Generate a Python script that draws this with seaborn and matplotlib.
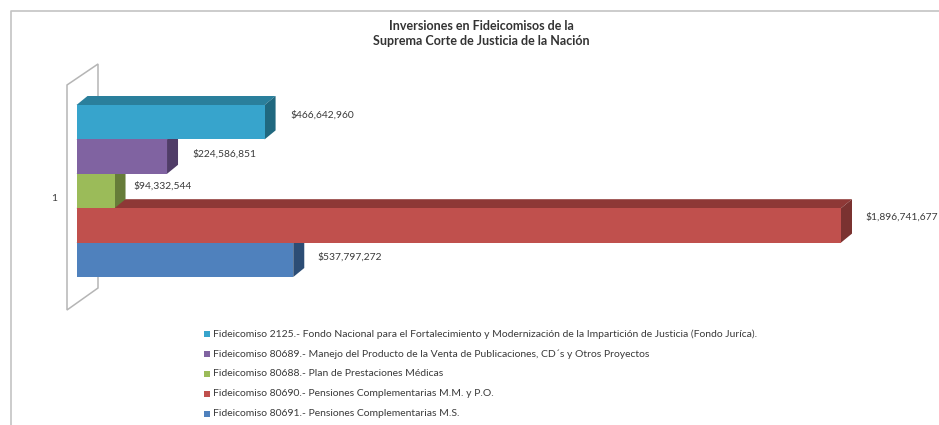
import matplotlib
matplotlib.use('Agg')
import matplotlib.pyplot as plt
from matplotlib.patches import Polygon
import pandas as pd
import seaborn as sns

fideicomisos = ['Fideicomiso 2125.- Fondo Nacional para el Fortalecimiento y Modernización de la Impartición de Justicia (Fondo Juríca).',
                'Fideicomiso 80689.- Manejo del Producto de la Venta de Publicaciones, CD´s y Otros Proyectos',
                'Fideicomiso 80688.- Plan de Prestaciones Médicas',
                'Fideicomiso 80690.- Pensiones Complementarias M.M. y P.O.',
                'Fideicomiso 80691.- Pensiones Complementarias M.S.']
montos = [466642960, 224586851, 94332544, 1896741677, 537797272]
frente = ['#37A4CC', '#8063A1', '#9BBB59', '#C0504D', '#4F81BD']
arriba = ['#2A7F9C', '#604A7B', '#76923C', '#8E3836', '#3A5F8C']
lado = ['#20687F', '#503D68', '#667C39', '#7A3230', '#2C4D75']

W, H = 939, 425
sns.set_theme(style='white')
plt.rcParams['font.family'] = ['Lato', 'DejaVu Sans']

df = pd.DataFrame({'nombre': fideicomisos, 'monto': montos})

fig = plt.figure(figsize=(W / 100, H / 100), dpi=100)

# capa de fondo en pixeles para pared, marco y leyenda
bg = fig.add_axes([0, 0, 1, 1])
bg.set_xlim(0, W)
bg.set_ylim(H, 0)
bg.axis('off')

# marco del grafico
bg.plot([11, 11, W], [H, 10.5, 10.5], color='#c4c4c4', lw=1.2)

# pared 3D
bg.add_patch(Polygon([(67, 85), (98, 64), (98, 288), (67, 310)], closed=True,
                     fill=False, edgecolor='#b5b5b5', lw=1.1))

# barras
ax = fig.add_axes([76.5 / W, 1 - 277 / H, 764.5 / W, 172 / H])
ax.patch.set_alpha(0)
sns.barplot(data=df, x='monto', y='nombre', hue='nombre', palette=frente,
            width=1.0, legend=False, dodge=False, ax=ax, saturation=1, linewidth=0)
ax.set_xlim(0, 1896741677)
ax.set_ylim(4.5, -0.5)
ax.axis('off')

# caras superior y lateral; las barras de arriba tapan a las de abajo
px = 1896741677 / 764.5
dx, dy = 11 * px, 9 / 34.4
for i, m in enumerate(montos):
    z = 10 - i
    ax.add_patch(Polygon([(0, i - .5), (dx, i - .5 - dy), (m + dx, i - .5 - dy), (m, i - .5)],
                         closed=True, fc=arriba[i], ec='none', clip_on=False, zorder=z))
    ax.add_patch(Polygon([(m, i - .5), (m + dx, i - .5 - dy), (m + dx, i + .5 - dy), (m, i + .5)],
                         closed=True, fc=lado[i], ec='none', clip_on=False, zorder=z))
frentes = [p for p in ax.patches if p.get_zorder() == 1]
for i, p in enumerate(frentes):
    p.set_zorder(10.5 - i)

# etiquetas de valor
sep_x = [26, 25, 19, 24, 24]
pos_y = [115, 154, 186, 217, 257]
for m, sx, y in zip(montos, sep_x, pos_y):
    bg.text(76.5 + m / px + sx, y, f'${m:,}', fontsize=7.4,
            color='#3a3a3a', va='center', ha='left')

bg.text(54, 198, '1', fontsize=7.4, color='#3a3a3a', ha='center', va='center')

# titulo
bg.text(481, 33.5, 'Inversiones en Fideicomisos de la\nSuprema Corte de Justicia de la Nación',
        fontsize=9, fontweight='bold', color='#333333', ha='center', va='center', linespacing=1.25)

# leyenda
ys = [334, 354, 374, 394, 414]
for nombre, c, y in zip(fideicomisos, frente, ys):
    bg.scatter([206.5], [y], marker='s', s=18, color=c, linewidths=0)
    bg.text(213, y, nombre, fontsize=7.48, color='#3a3a3a', ha='left', va='center')

fig.savefig('out.png', dpi=100, facecolor='white')
